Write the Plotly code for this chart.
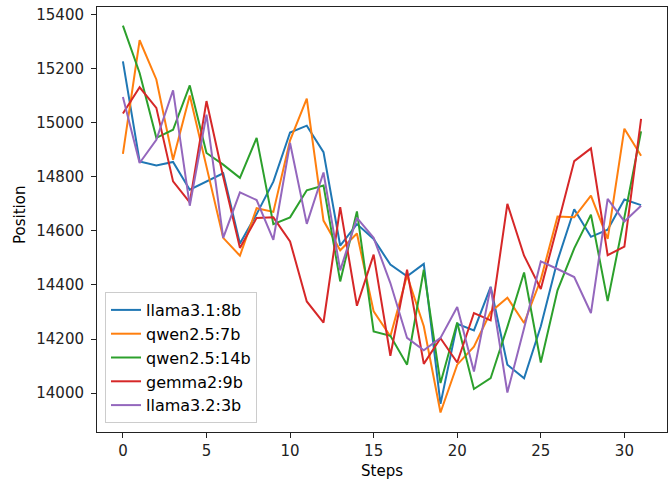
import plotly.graph_objects as go

steps = list(range(32))

llama31_8b = [15227, 14857, 14842, 14855, 14752, 14781, 14813, 14553, 14662, 14782,
              14964, 14989, 14891, 14545, 14625, 14570, 14475, 14432, 14478, 13960,
              14256, 14232, 14393, 14105, 14055, 14247, 14490, 14680, 14578, 14604,
              14716, 14695]
qwen25_7b = [14885, 15305, 15160, 14863, 15101, 14840, 14574, 14508, 14684, 14670,
             14935, 15089, 14638, 14528, 14590, 14302, 14210, 14435, 14247, 13928,
             14105, 14172, 14300, 14353, 14259, 14420, 14653, 14650, 14730, 14570,
             14978, 14878]
qwen25_14b = [15359, 15184, 14944, 14974, 15138, 14888, 14845, 14796, 14944, 14625,
              14650, 14750, 14768, 14413, 14672, 14228, 14212, 14105, 14456, 14037,
              14261, 14015, 14055, 14245, 14446, 14113, 14380, 14535, 14660, 14340,
              14650, 14968]
gemma2_9b = [15034, 15131, 15055, 14783, 14705, 15080, 14800, 14537, 14648, 14650,
             14561, 14339, 14261, 14688, 14323, 14512, 14138, 14456, 14108, 14203,
             14113, 14296, 14269, 14700, 14508, 14385, 14620, 14858, 14905, 14510,
             14542, 15014]
llama32_3b = [15095, 14851, 14937, 15120, 14693, 15030, 14574, 14742, 14714, 14567,
              14925, 14626, 14816, 14454, 14648, 14574, 14407, 14204, 14158, 14204,
              14318, 14080, 14392, 14002, 14240, 14487, 14459, 14429, 14296, 14718,
              14635, 14693]

series_names = ["llama3.1:8b", "qwen2.5:7b", "qwen2.5:14b", "gemma2:9b", "llama3.2:3b"]
series_values = [llama31_8b, qwen25_7b, qwen25_14b, gemma2_9b, llama32_3b]
colors = ["#1f77b4", "#ff7f0e", "#2ca02c", "#d62728", "#9467bd"]

x_ticks = [0, 5, 10, 15, 20, 25, 30]
y_ticks = [14000, 14200, 14400, 14600, 14800, 15000, 15200, 15400]

fig = go.Figure()
for name, vals, col in zip(series_names, series_values, colors):
    fig.add_trace(go.Scatter(x=steps, y=vals, mode="lines", name=name,
                             line=dict(color=col, width=2)))

font = dict(family="DejaVu Sans", size=15, color="#000000")
legend_font = dict(family="DejaVu Sans", size=16, color="#000000")
tick_font = dict(family="DejaVu Sans", size=15, color="#222222")
axis_common = dict(showgrid=False, zeroline=False, showline=True, linecolor="#222222",
                   linewidth=1, mirror=True, ticks="outside", ticklen=5, tickwidth=1,
                   tickcolor="#222222", tickfont=tick_font, automargin=False)

ML, MR, MT, MB = 97, 3, 7, 48
W, H = 670, 480
pw = W - ML - MR
ph = H - MT - MB

fig.update_layout(
    width=W, height=H,
    margin=dict(l=ML, r=MR, t=MT, b=MB),
    paper_bgcolor="white", plot_bgcolor="white",
    font=font,
    xaxis=dict(range=[-1.55, 32.55], tickvals=x_ticks,
               ticktext=[str(v) for v in x_ticks], ticklabelstandoff=0, **axis_common),
    yaxis=dict(range=[13856, 15428], tickvals=y_ticks,
               ticktext=[str(v) for v in y_ticks], ticklabelstandoff=4, **axis_common),
    legend=dict(x=(105 - ML) / pw, y=(H - MB - 423) / ph, xanchor="left", yanchor="bottom",
                bgcolor="rgba(255,255,255,0.8)", bordercolor="#cccccc", borderwidth=1,
                font=legend_font, itemwidth=30, tracegroupgap=0),
    showlegend=True,
    annotations=[
        dict(text="Steps", x=(382 - ML) / pw, y=(H - MB - 471) / ph,
             xref="paper", yref="paper", showarrow=False,
             font=font, xanchor="center", yanchor="middle"),
        dict(text="Position", x=(20 - ML) / pw, y=(H - MB - 215) / ph,
             xref="paper", yref="paper", showarrow=False,
             font=font, textangle=-90, xanchor="center", yanchor="middle"),
    ],
)

fig.write_html("out.html", config={"displayModeBar": False},
               post_script="document.body.style.margin='0';")
